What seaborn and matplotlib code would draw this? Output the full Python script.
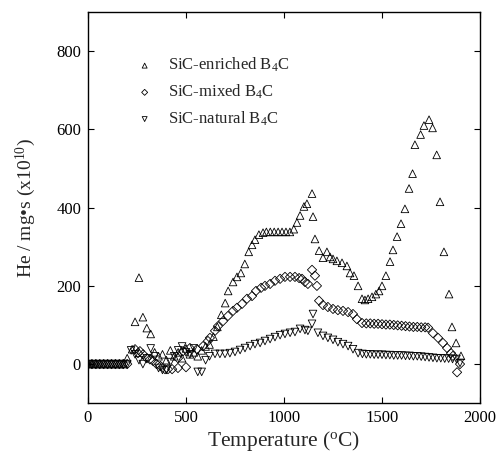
import numpy as np
import pandas as pd
import seaborn as sns
import matplotlib.pyplot as plt

# SiC-enriched B4C (up triangles)
enr_t = [0, 20, 40, 60, 80, 100, 120, 140, 160, 180, 200, 225, 240, 260, 280, 300, 320,
         340, 360, 380, 400, 420, 440, 460, 480, 500, 520, 540, 560, 580, 600,
         620, 640, 660, 680, 700, 715, 740, 760, 780, 800, 820, 837, 852, 872, 893,
         910, 930, 950, 970, 990, 1010, 1030, 1050, 1066, 1082, 1102, 1117, 1143, 1148,
         1158, 1179, 1199, 1219, 1235, 1250, 1270, 1296, 1321, 1337, 1357, 1378, 1398,
         1413, 1429, 1449, 1469, 1485, 1500, 1520, 1541, 1556, 1577, 1597, 1617, 1638,
         1656, 1668, 1697, 1714, 1740, 1758, 1779, 1796, 1816, 1842, 1857, 1878, 1903]
enr_he = [0, 0, 0, 0, 0, 0, 0, 0, 0, 0, 15, 38, 108, 221, 120, 92, 77,
          30, 20, 25, 10, 35, 20, 30, 15, 40, 25, 30, 20, 35, 45,
          50, 70, 95, 126, 156, 187, 210, 223, 233, 256, 287, 305, 318, 331, 336,
          338, 338, 338, 338, 338, 338, 338, 345, 362, 380, 403, 410, 436, 377,
          320, 290, 272, 287, 274, 269, 264, 259, 251, 233, 226, 200, 167,
          164, 167, 172, 179, 187, 200, 226, 262, 292, 326, 359, 397, 449,
          487, 561, 587, 610, 625, 604, 535, 415, 287, 179, 95, 54, 21]

# SiC-mixed B4C (diamonds)
mix_t = [0, 20, 40, 60, 80, 100, 120, 140, 160, 180, 200, 240, 255, 265, 281, 300, 316,
         332, 350, 370, 393, 408, 429, 459, 500, 459, 485, 520, 556, 587, 612,
         622, 648, 663, 689, 714, 740, 760, 786, 811, 837, 857, 883, 903, 929, 954,
         980, 1005, 1031, 1056, 1077, 1092, 1107, 1122, 1143, 1158, 1168, 1179, 1199,
         1224, 1250, 1275, 1301, 1327, 1352, 1372, 1398, 1420, 1440, 1460, 1480, 1500,
         1520, 1540, 1560, 1580, 1600, 1620, 1640, 1660, 1680, 1700, 1720, 1735, 1760,
         1786, 1811, 1832, 1852, 1862, 1883, 1898]
mix_he = [0, 0, 0, 0, 0, 0, 0, 0, 0, 0, 0, 38, 28, 33, 25, 15, 12,
          8, 0, -5, -13, -13, -13, -10, -8, 15, 33, 41, 38, 46, 59,
          67, 85, 97, 110, 123, 136, 144, 154, 167, 174, 187, 195, 200, 205, 213,
          218, 223, 223, 223, 220, 218, 210, 205, 241, 226, 200, 162, 151,
          146, 141, 138, 136, 133, 128, 115, 105, 104, 104, 103, 103, 102,
          101, 101, 100, 99, 98, 97, 96, 95, 95, 94, 94, 93, 79,
          67, 54, 41, 28, 21, -21, 0]

# SiC-natural B4C (down triangles)
nat_t = [0, 20, 40, 60, 80, 100, 120, 140, 160, 180, 200, 220, 240, 260, 280, 300, 320,
         340, 360, 380, 400, 420, 440, 460, 480, 500, 520, 540, 560, 580, 600, 620,
         648, 673, 699, 724, 750, 776, 801, 827, 852, 878, 903, 929, 954, 980, 1005,
         1031, 1056, 1082, 1107, 1122, 1143, 1148, 1173, 1199, 1224, 1250, 1275, 1301,
         1327, 1352, 1378, 1400, 1420, 1440, 1460, 1480, 1500, 1520, 1540, 1560, 1580,
         1600, 1620, 1640, 1660, 1680, 1700, 1720, 1740, 1760, 1780, 1800, 1820, 1840,
         1860, 1880, 1898]
nat_he = [0, 0, 0, 0, 0, 0, 0, 0, 0, 0, 0, 35, 25, 10, 0, 15, 40,
          20, -10, -15, -15, 5, 20, 35, 45, 30, 25, 40, -20, -20, 10, 20,
          26, 26, 26, 28, 31, 36, 41, 46, 51, 54, 59, 64, 69, 74, 77,
          80, 82, 90, 87, 85, 103, 128, 80, 72, 67, 62, 56, 51,
          46, 38, 28, 26, 25, 25, 24, 24, 24, 23, 23, 22, 22,
          22, 21, 21, 20, 20, 19, 18, 17, 16, 15, 15, 14, 14,
          13, 13, 3]

sns.set_theme(style='ticks')
plt.rcParams['font.family'] = ['Liberation Serif', 'DejaVu Serif']
plt.rcParams['mathtext.fontset'] = 'custom'
plt.rcParams['mathtext.rm'] = 'Liberation Serif'
plt.rcParams['mathtext.it'] = 'Liberation Serif:italic'

fig = plt.figure(figsize=(5, 4.53), dpi=100)
ax = fig.add_axes([0.176, 0.110, 0.784, 0.8631])

style = dict(s=30, facecolor='none', edgecolor='black', linewidth=0.6)
sns.scatterplot(x=enr_t, y=enr_he, marker='^', label=r'SiC-enriched B$_4$C', ax=ax, **style)
sns.scatterplot(x=mix_t, y=mix_he, marker='D', label=r'SiC-mixed B$_4$C', ax=ax,
                **dict(style, s=22))
sns.scatterplot(x=nat_t, y=nat_he, marker='v', label=r'SiC-natural B$_4$C', ax=ax, **style)

ax.set_xlim(0, 2000)
ax.set_ylim(-100, 900)
ax.set_xticks([0, 500, 1000, 1500, 2000])
ax.set_yticks([0, 200, 400, 600, 800])
ax.tick_params(direction='in', length=4.5, width=0.8, top=True, right=True,
               labelsize=12, colors='black', pad=5)
for sp in ax.spines.values():
    sp.set_linewidth(1.0)
    sp.set_color('black')

ax.set_xlabel(r'Temperature ($^{\mathrm{o}}$C)', fontsize=15.5)
ax.set_ylabel('He / mg\u2022s (x10$^{10}$)', fontsize=14)
ax.xaxis.set_label_coords(0.5, -0.066)
ax.yaxis.set_label_coords(-0.128, 0.5)

ax.legend(loc='upper left', bbox_to_anchor=(0.085, 0.905), frameon=False,
          fontsize=12, handletextpad=0.4, labelspacing=0.5, borderaxespad=0,
          markerscale=0.65)

fig.savefig('out.png', dpi=100)
